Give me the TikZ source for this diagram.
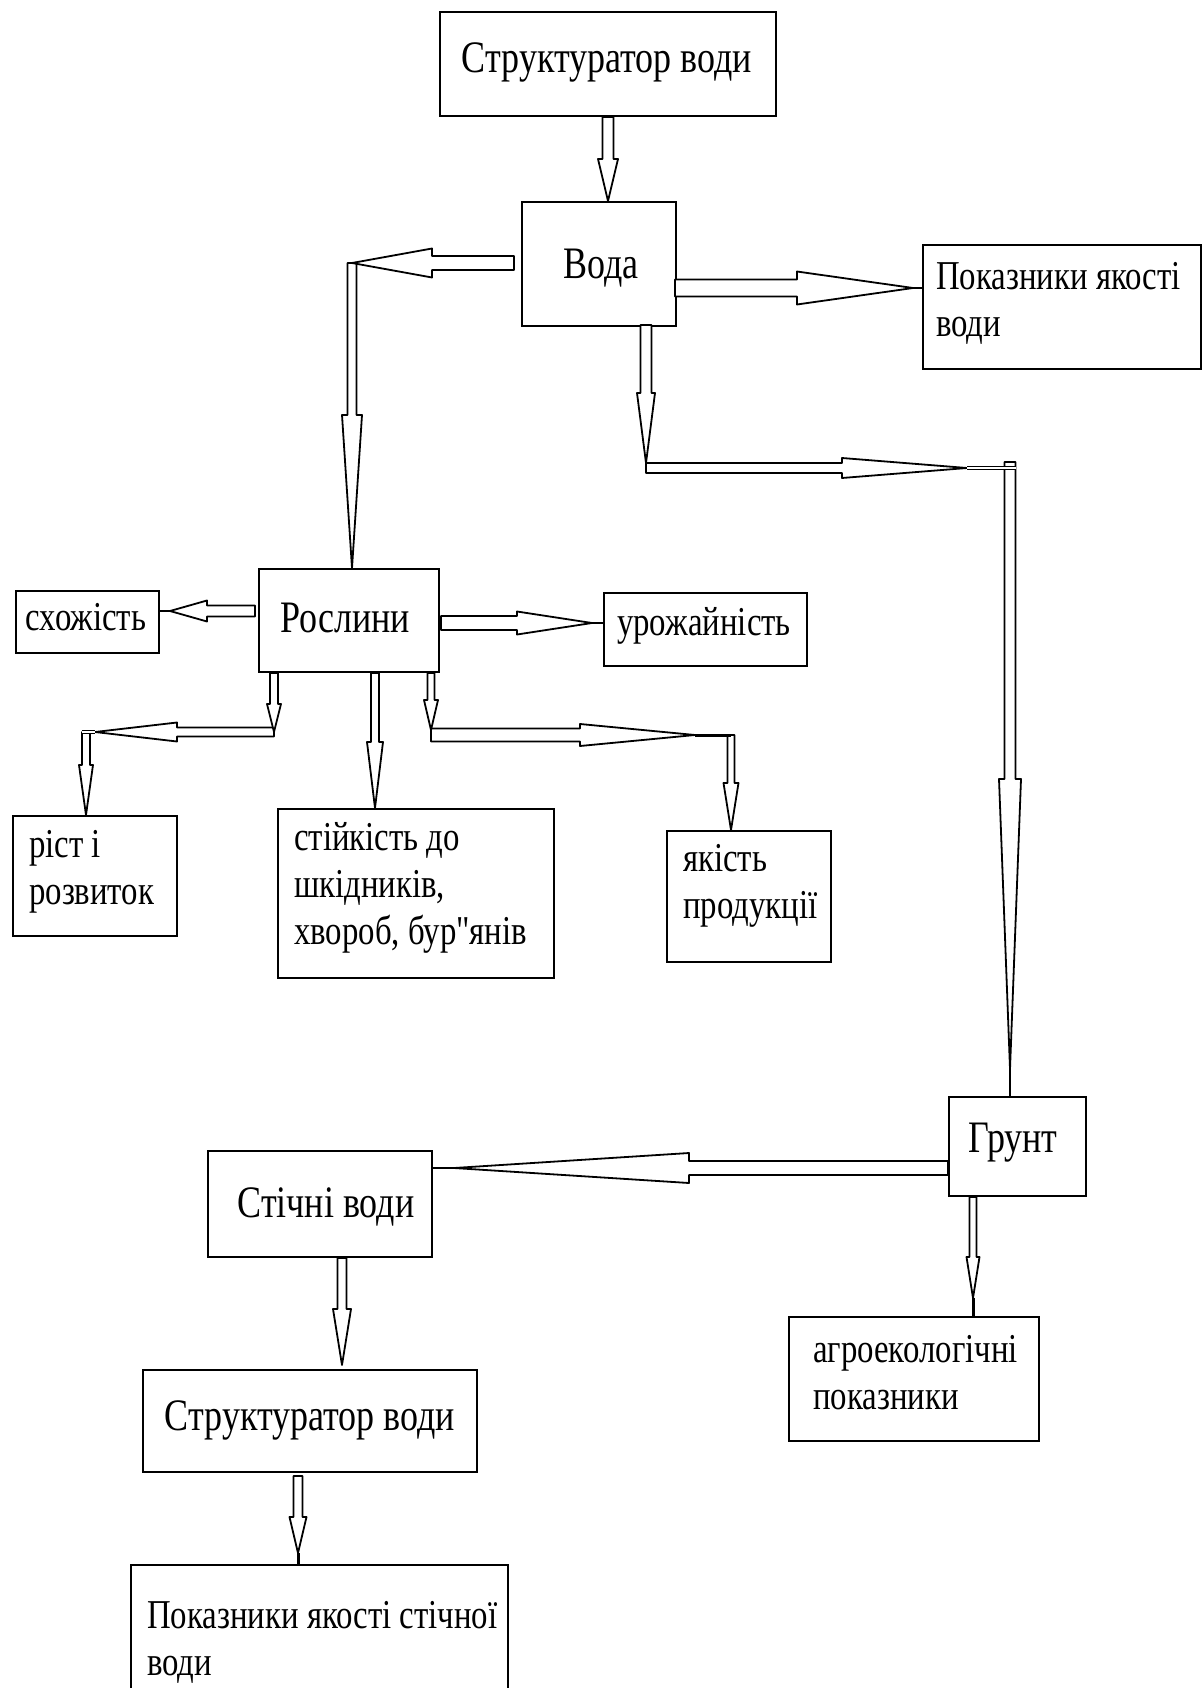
\documentclass[tikz,border=0pt]{standalone}
\usepackage{fontspec}
\setmainfont{Liberation Serif}
\usepackage{graphicx}
\usetikzlibrary{calc}
\newcommand\sx[1]{\scalebox{0.8}[1]{#1}}
% block arrow: #1 start, #2 tip, #3 half shaft width, #4 half head width, #5 head length
\newcommand\barrow[5]{%
  \coordinate (ba-h) at ($(#2)!#5!(#1)$);
  \draw[arrowline] ($(#1)!#3!90:(#2)$) -- ($(ba-h)!#3!-90:(#1)$) -- ($(ba-h)!#4!-90:(#1)$) -- (#2) -- ($(ba-h)!#4!90:(#1)$) -- ($(ba-h)!#3!90:(#1)$) -- ($(#1)!#3!-90:(#2)$) -- cycle;}
\begin{document}
\begin{tikzpicture}[x=1pt,y=-1pt,
  box/.style={draw, line width=2pt, inner sep=0pt, anchor=north west},
  arrowline/.style={draw, line width=1.8pt, fill=white, line join=round},
  conn/.style={line width=2pt},
  thickconn/.style={line width=3pt},
  thinpair/.style={double, double distance=1.6pt, line width=1.1pt},
  big/.style={font=\fontsize{45}{52}\selectfont, inner sep=0pt, anchor=base},
  smallc/.style={font=\fontsize{41}{47}\selectfont, inner sep=0pt, anchor=base},
  small/.style={font=\fontsize{41}{47}\selectfont, inner sep=0pt, anchor=base west}]
\useasboundingbox (0,0) rectangle (1203,1688);

% boxes
\node[box, minimum width=336pt, minimum height=104pt] (top) at (439,11) {};
\node[box, minimum width=154pt, minimum height=124pt] (voda) at (521,201) {};
\node[box, minimum width=278pt, minimum height=124pt] (pokvody) at (922,244) {};
\node[box, minimum width=180pt, minimum height=103pt] (roslyny) at (258,568) {};
\node[box, minimum width=143pt, minimum height=62pt] (shozhist) at (15,590) {};
\node[box, minimum width=203pt, minimum height=73pt] (urozh) at (603,592) {};
\node[box, minimum width=164pt, minimum height=120pt] (rist) at (12,815) {};
\node[box, minimum width=276pt, minimum height=169pt] (stiyk) at (277,808) {};
\node[box, minimum width=164pt, minimum height=131pt] (yakist) at (666,830) {};
\node[box, minimum width=137pt, minimum height=99pt] (grunt) at (948,1096) {};
\node[box, minimum width=250pt, minimum height=124pt] (agro) at (788,1316) {};
\node[box, minimum width=224pt, minimum height=106pt] (stichni) at (207,1150) {};
\node[box, minimum width=334pt, minimum height=102pt] (struct2) at (142,1369) {};
\node[box, minimum width=377pt, minimum height=160pt] (pokst) at (130,1564) {};

% texts
\node[big] (t-top) at (607,73) {\sx{Структуратор води}};
\node[big] (t-voda) at (601,279) {\sx{Вода}};
\node[small] (t-pokvody) at (936,289) {\sx{\begin{tabular}[t]{@{}l@{}}Показники якості\\води\end{tabular}}};
\node[big] (t-rosl) at (345,632) {\sx{Рослини}};
\node[smallc] (t-shoz) at (86,630) {\sx{схожість}};
\node[smallc] (t-uroz) at (704,635) {\sx{урожайність}};
\node[small] (t-rist) at (29,857) {\sx{\begin{tabular}[t]{@{}l@{}}ріст і\\розвиток\end{tabular}}};
\node[small] (t-stiyk) at (294,850) {\sx{\begin{tabular}[t]{@{}l@{}}стійкість до\\шкідників,\\хвороб, бур\textquotedbl янів\end{tabular}}};
\node[small] (t-yak) at (683,871) {\sx{\begin{tabular}[t]{@{}l@{}}якість\\продукції\end{tabular}}};
\node[big] (t-grunt) at (1013,1152) {\sx{Грунт}};
\node[small] (t-agro) at (813,1362) {\sx{\begin{tabular}[t]{@{}l@{}}агроекологічні\\показники\end{tabular}}};
\node[big] (t-stich) at (326,1217) {\sx{Стічні води}};
\node[big] (t-str2) at (310,1430) {\sx{Структуратор води}};
\node[small] (t-pokst) at (147,1628) {\sx{\begin{tabular}[t]{@{}l@{}}Показники якості стічної\\води\end{tabular}}};

% bend / free-end coordinates
\coordinate (aS) at (top.south);
\coordinate (aT) at (aS |- voda.north);
\coordinate (bS) at (514,263);
\coordinate (bB) at (352,263);
\coordinate (bT) at (bB |- roslyny.north);
\coordinate (cS) at (675,288);
\coordinate (cT) at (913,288);
\coordinate (dS) at (646,325);
\coordinate (dT1) at (646,463);
\coordinate (dB) at (646,468);
\coordinate (dH) at (967,468);
\coordinate (dC) at (1016,468);
\coordinate (dV) at (1010,462);
\coordinate (dT) at (1010,1069);
\coordinate (eS) at (255,611);
\coordinate (eT) at (170,611);
\coordinate (fS) at (441,623);
\coordinate (fT) at (592,623);
\coordinate (gB) at (274,732);
\coordinate (gT) at (95,732);
\coordinate (gC) at (82,732);
\coordinate (gV) at (86,732);
\coordinate (hX) at (375,700);
\coordinate (iT1) at (431,730);
\coordinate (iB) at (431,735);
\coordinate (iT) at (695,735);
\coordinate (iC) at (731,735);
\coordinate (jS) at (948,1168);
\coordinate (jT) at (454,1168);
\coordinate (kX) at (973,1250);
\coordinate (kT) at (973,1298);
\coordinate (lX) at (342,1300);
\coordinate (lT) at (342,1365);
\coordinate (mS) at (298,1476);
\coordinate (mT) at (298,1553);

% connectors
\barrow{aS}{aT}{5.5pt}{10pt}{42pt}
\barrow{bB}{bT}{4.5pt}{10pt}{153pt}
\barrow{bS}{bB}{7pt}{14.5pt}{80pt}
\barrow{cS}{cT}{8.5pt}{16.5pt}{116pt}
\draw[conn] (cT) -- (cT -| pokvody.west);
\barrow{dV}{dT}{5.5pt}{11pt}{290pt}
\draw[conn] (dT) -- (dT |- grunt.north);
\barrow{dB}{dH}{5pt}{10pt}{125pt}
\draw[thinpair] (dH) -- (dC);
\barrow{dS}{dT1}{5.5pt}{9pt}{70pt}
\barrow{eS}{eT}{5.5pt}{10.5pt}{37pt}
\draw[conn] (eT) -- (eT -| shozhist.east);
\barrow{fS}{fT}{7pt}{11.5pt}{75pt}
\draw[conn] (fT) -- (fT -| urozh.west);
\barrow{gV}{gV |- rist.north}{4pt}{7pt}{50pt}
\barrow{gB}{gT}{4.5pt}{9.5pt}{82pt}
\draw[thinpair] (gT) -- (gC);
\barrow{gB |- roslyny.south}{gB}{4pt}{7pt}{28pt}
\barrow{hX |- roslyny.south}{hX |- stiyk.north}{4pt}{8pt}{66pt}
\barrow{iC}{iC |- yakist.north}{3.5pt}{7.5pt}{47pt}
\barrow{iB}{iT}{6.5pt}{11pt}{115pt}
\draw[thickconn] (iT) -- (iC);
\barrow{iB |- roslyny.south}{iT1}{3.5pt}{7pt}{30pt}
\barrow{jS}{jT}{7pt}{15pt}{235pt}
\draw[conn] (jT) -- (jT -| stichni.east);
\barrow{kX |- grunt.south}{kT}{3.5pt}{6.5pt}{41pt}
\draw[thickconn] (kT) -- (kT |- agro.north);
\barrow{lX |- stichni.south}{lT}{4.5pt}{9pt}{56pt}
\barrow{mS}{mT}{4.5pt}{8.5pt}{36pt}
\draw[thickconn] (mT) -- (mT |- pokst.north);
\end{tikzpicture}
\end{document}
